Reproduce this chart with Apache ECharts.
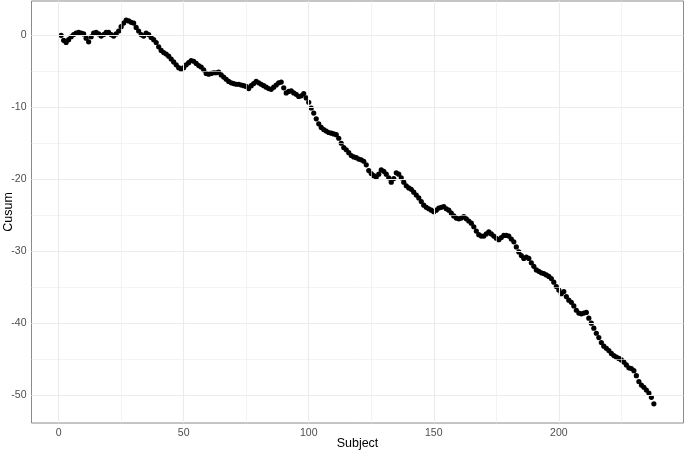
<!DOCTYPE html>
<html>
<head>
<meta charset="utf-8">
<title>Cusum</title>
<script src="https://cdn.jsdelivr.net/npm/echarts@6/dist/echarts.min.js"></script>
<style>
  html, body { margin: 0; padding: 0; background: #fff; }
  #chart { width: 685px; height: 451px; }
</style>
</head>
<body>
<div id="chart"></div>
<script>
// cumulative sum per subject (subject = position + 1)
var cusum = [
  0.0, -0.7, -1.0, -0.6, -0.2, 0.1, 0.3, 0.4, 0.3, 0.2,
  -0.4, -0.9, -0.2, 0.3, 0.4, 0.2, -0.1, 0.1, 0.4, 0.4,
  0.1, -0.1, 0.2, 0.6, 1.2, 1.7, 2.1, 2.0, 1.8, 1.7,
  1.1, 0.6, 0.1, -0.1, 0.3, 0.1, -0.3, -0.6, -1.0, -1.6,
  -2.1, -2.4, -2.6, -2.9, -3.3, -3.7, -4.1, -4.5, -4.7, -4.5,
  -4.1, -3.8, -3.5, -3.6, -3.9, -4.2, -4.4, -4.8, -5.3, -5.4,
  -5.3, -5.2, -5.2, -5.1, -5.5, -5.8, -6.1, -6.4, -6.6, -6.7,
  -6.8, -6.8, -6.9, -7.0, -7.1, -7.4, -7.0, -6.7, -6.4, -6.6,
  -6.8, -7.0, -7.2, -7.4, -7.5, -7.2, -6.9, -6.6, -6.5, -7.3,
  -8.0, -7.8, -7.7, -8.0, -8.2, -8.5, -8.4, -8.1, -8.7, -9.3,
  -10.1, -10.8, -11.6, -12.3, -12.8, -13.1, -13.3, -13.5, -13.6, -13.7,
  -13.8, -14.3, -15.0, -15.6, -15.9, -16.3, -16.7, -16.9, -17.0, -17.2,
  -17.3, -17.5, -18.0, -18.8, -19.2, -19.5, -19.7, -19.3, -18.7, -18.9,
  -19.3, -19.8, -20.4, -19.9, -19.1, -19.3, -19.8, -20.4, -20.9, -21.2,
  -21.4, -21.8, -22.2, -22.6, -23.1, -23.6, -23.9, -24.1, -24.3, -24.5,
  -24.3, -24.0, -23.9, -23.8, -24.1, -24.3, -24.7, -25.1, -25.4, -25.5,
  -25.4, -25.2, -25.5, -25.8, -26.1, -26.6, -27.2, -27.7, -27.9, -27.9,
  -27.6, -27.3, -27.6, -27.9, -28.2, -28.4, -28.1, -27.8, -27.8, -27.9,
  -28.3, -28.7, -29.4, -30.1, -30.6, -31.0, -30.8, -31.0, -31.6, -32.1,
  -32.6, -32.8, -33.0, -33.1, -33.3, -33.5, -33.8, -34.3, -34.9, -35.4,
  -35.9, -35.6, -36.3, -36.8, -37.1, -37.6, -38.2, -38.6, -38.7, -38.6,
  -38.5, -39.3, -40.0, -40.7, -41.4, -42.0, -42.7, -43.2, -43.5, -43.8,
  -44.2, -44.5, -44.7, -44.9, -45.1, -45.4, -45.8, -46.2, -46.3, -46.6,
  -47.3, -48.1, -48.6, -48.9, -49.3, -49.7, -50.3, -51.2
];

var xTicks = [0, 50, 100, 150, 200];
var xMinor = [25, 75, 125, 175, 225];
var yTicks = [0, -10, -20, -30, -40, -50];
var yMinor = [-5, -15, -25, -35, -45];

var xRange = [-10.85, 249.85];
var yRange = [-53.87, 4.77];

var points = cusum.map(function (v, i) { return [i + 1, v]; });

var gridColor = '#ebebeb';
var frameColor = '#8a8a8a';
var labelFont = 'Liberation Sans, Arial, Helvetica, sans-serif';

function gridLines (vals, key, width) {
  return vals.map(function (v) {
    var d = {};
    d[key] = v;
    d.lineStyle = { color: gridColor, width: width, type: 'solid' };
    return d;
  });
}

var chart = echarts.init(document.getElementById('chart'), null, { renderer: 'canvas' });
chart.setOption({
  animation: false,
  backgroundColor: '#ffffff',
  grid: {
    left: 31.5,
    right: 1.5,
    top: 1,
    bottom: 28,
    containLabel: false,
    outerBoundsMode: 'none',
    show: true,
    borderColor: frameColor,
    borderWidth: 1,
    backgroundColor: '#ffffff'
  },
  xAxis: {
    type: 'value',
    min: xRange[0],
    max: xRange[1],
    name: 'Subject',
    nameLocation: 'middle',
    nameGap: 14.5,
    nameMoveOverlap: false,
    nameTextStyle: { color: '#000', fontSize: 12.5, fontFamily: labelFont, verticalAlign: 'top' },
    axisLine: { show: false },
    axisTick: { show: true, customValues: xTicks, length: 3, lineStyle: { color: frameColor } },
    axisLabel: { customValues: xTicks, color: '#4d4d4d', fontSize: 10.5, fontFamily: labelFont, margin: 5 },
    splitLine: { show: false }
  },
  yAxis: {
    type: 'value',
    min: yRange[0],
    max: yRange[1],
    name: 'Cusum',
    nameLocation: 'middle',
    nameRotate: 90,
    nameGap: 16,
    nameMoveOverlap: false,
    nameTextStyle: { color: '#000', fontSize: 12.5, fontFamily: labelFont, verticalAlign: 'bottom' },
    axisLine: { show: false },
    axisTick: { show: true, customValues: yTicks, length: 3, lineStyle: { color: frameColor } },
    axisLabel: { customValues: yTicks, color: '#4d4d4d', fontSize: 10.5, fontFamily: labelFont, margin: 5 },
    splitLine: { show: false }
  },
  series: [
    {
      name: 'grid',
      type: 'scatter',
      data: [],
      silent: true,
      z: 1,
      markLine: {
        silent: true,
        symbol: 'none',
        label: { show: false },
        animation: false,
        data: [].concat(
          gridLines(xMinor, 'xAxis', 0.6),
          gridLines(yMinor, 'yAxis', 0.6),
          gridLines(xTicks, 'xAxis', 1.1),
          gridLines(yTicks, 'yAxis', 1.1)
        )
      }
    },
    {
      name: 'Cusum',
      type: 'scatter',
      z: 3,
      symbol: 'circle',
      symbolSize: 5.2,
      itemStyle: { color: '#000000', opacity: 1 },
      data: points
    }
  ]
});
</script>
</body>
</html>
